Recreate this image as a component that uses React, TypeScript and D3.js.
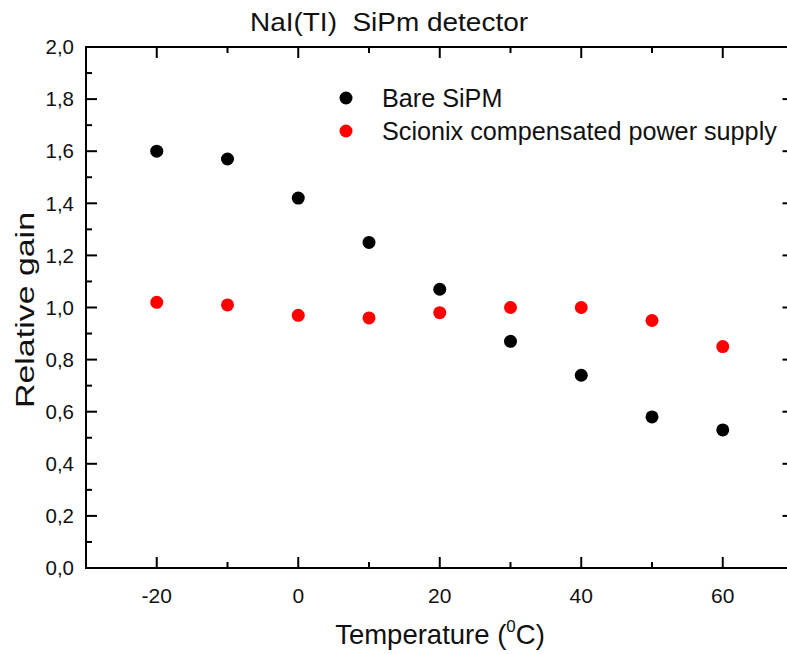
import React from "react";
import * as d3 from "d3";

const temperatures = [-20, -10, 0, 10, 20, 30, 40, 50, 60];
const bareSiPM = [1.6, 1.57, 1.42, 1.25, 1.07, 0.87, 0.74, 0.58, 0.53];
const scionix = [1.02, 1.01, 0.97, 0.96, 0.98, 1.0, 1.0, 0.95, 0.85];
const xMajorTicks = [-20, 0, 20, 40, 60];
const xMinorTicks = [-30, -10, 10, 30, 50, 70];
const yMajorTicks = [0, 0.2, 0.4, 0.6, 0.8, 1.0, 1.2, 1.4, 1.6, 1.8, 2.0];
const yMinorTicks = [0.1, 0.3, 0.5, 0.7, 0.9, 1.1, 1.3, 1.5, 1.7, 1.9];
const seriesNames = ["Bare SiPM", "Scionix compensated power supply"];
const seriesColors = ["#000000", "#ff0000"];

const W = 787;
const H = 654;
const L = 86, R = 793.5, T = 47, B = 568;
const FONT = "'Liberation Sans', Arial, sans-serif";

export default function App() {
  const x = d3.scaleLinear().domain([-30, 70]).range([L, R]);
  const y = d3.scaleLinear().domain([0, 2]).range([B, T]);
  const fmt = (v: number) => d3.format(".1f")(v).replace(".", ",");
  const major = 11, minor = 6;
  const series = [bareSiPM, scionix];

  return (
    <svg width={W} height={H} style={{ position: "absolute", left: 0, top: 0, background: "#fff" }} fontFamily={FONT}>
      <rect x={0} y={0} width={W} height={H} fill="#fff" />
      {/* title */}
      <text x={250} y={31} fontSize={26} textLength={278} lengthAdjust="spacingAndGlyphs" fill="#111" style={{ whiteSpace: "pre" }}>NaI(TI)  SiPm detector</text>

      {/* ticks */}
      <g stroke="#000" strokeWidth={2}>
        {xMajorTicks.map((t) => (
          <g key={"xm" + t}>
            <line x1={x(t)} x2={x(t)} y1={B} y2={B - major} />
            <line x1={x(t)} x2={x(t)} y1={T} y2={T + major} />
          </g>
        ))}
        {xMinorTicks.map((t) => (
          <g key={"xn" + t}>
            <line x1={x(t)} x2={x(t)} y1={B} y2={B - minor} />
            <line x1={x(t)} x2={x(t)} y1={T} y2={T + minor} />
          </g>
        ))}
        {yMajorTicks.map((t) => (
          <g key={"ym" + t}>
            <line x1={L} x2={L + major} y1={y(t)} y2={y(t)} />
            <line x1={R} x2={R - major} y1={y(t)} y2={y(t)} />
          </g>
        ))}
        {yMinorTicks.map((t) => (
          <g key={"yn" + t}>
            <line x1={L} x2={L + minor} y1={y(t)} y2={y(t)} />
            <line x1={R} x2={R - minor} y1={y(t)} y2={y(t)} />
          </g>
        ))}
        <rect x={L} y={T} width={R - L} height={B - T} fill="none" />
      </g>

      {/* tick labels */}
      {yMajorTicks.map((t) => (
        <text key={"yl" + t} x={74} y={y(t) + 7.2} fontSize={20.5} textAnchor="end" fill="#111">{fmt(t)}</text>
      ))}
      {xMajorTicks.map((t) => (
        <text key={"xl" + t} x={x(t)} y={603} fontSize={21} textAnchor="middle" fill="#111">{t}</text>
      ))}

      {/* axis labels */}
      <text x={440} y={644} fontSize={27.5} textAnchor="middle" fill="#111">
        Temperature (<tspan fontSize={17} dy={-12}>0</tspan><tspan dy={12}>C)</tspan>
      </text>
      <text transform={`translate(34, 310) rotate(-90)`} x={-98} fontSize={26} textLength={196} lengthAdjust="spacingAndGlyphs" fill="#111">Relative gain</text>

      {/* data */}
      {series.map((s, si) => (
        <g key={"s" + si} fill={seriesColors[si]}>
          {s.map((v, i) => (
            <circle key={i} cx={x(temperatures[i])} cy={y(v)} r={6.5} />
          ))}
        </g>
      ))}

      {/* legend */}
      {seriesNames.map((n, i) => (
        <g key={"lg" + i}>
          <circle cx={346} cy={98 + i * 33} r={6.5} fill={seriesColors[i]} />
          <text x={382} y={107 + i * 33} fontSize={25.2} fill="#111">{n}</text>
        </g>
      ))}
    </svg>
  );
}
